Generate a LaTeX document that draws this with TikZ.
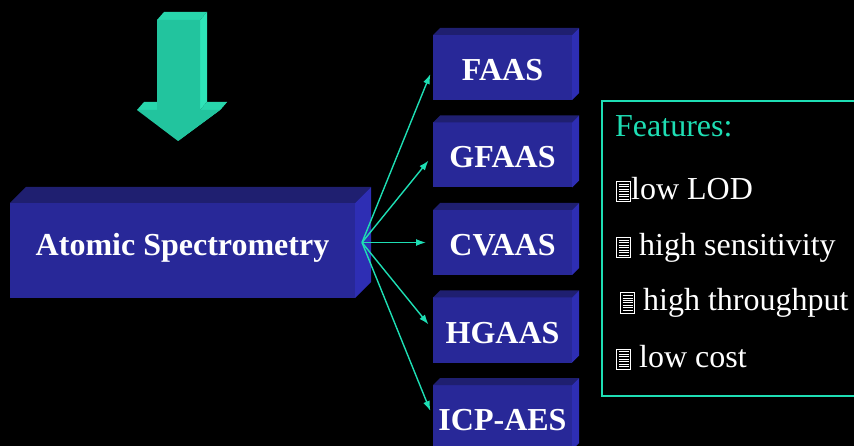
\documentclass[tikz,border=0pt]{standalone}
\usepackage{fontspec}
\setmainfont{Liberation Serif}
\usetikzlibrary{arrows.meta}

\definecolor{slabfront}{RGB}{40,40,152}
\definecolor{slabtop}{RGB}{31,31,112}
\definecolor{slabside}{RGB}{46,46,180}
\definecolor{aqua}{RGB}{30,222,180}
\definecolor{arrowfront}{RGB}{34,196,158}
\definecolor{arrowtop}{RGB}{40,214,172}
\definecolor{arrowside}{RGB}{46,228,184}

% little notepad glyph used as bullet
\newcommand\iconline{\hrule width 10pt height 1pt}
\newcommand\noteicon{{\fboxrule=1pt\fboxsep=1.5pt\fbox{\vbox{\iconline\vskip1.5pt\iconline\vskip1.5pt\iconline\vskip1.5pt\iconline\vskip1.5pt\iconline\vskip1.5pt\iconline\vskip1.5pt\iconline}}}}

% top and right faces of a block
\newcommand\slabfaces[2]{%
  \fill[slabtop] (#1.north west) -- ++(#2,-#2) -- ([shift={(#2,-#2)}]#1.north east) -- (#1.north east) -- cycle;
  \fill[slabside] (#1.north east) -- ++(#2,-#2) -- ([shift={(#2,-#2)}]#1.south east) -- (#1.south east) -- cycle;}

\tikzset{
  slab/.style={fill=slabfront, text=white, outer sep=0pt, inner sep=0pt,
    font=\fontsize{32}{38}\selectfont\bfseries},
  method/.style={slab, minimum width=139, minimum height=65, text height=26, text depth=0},
  link/.style={aqua, line width=1.4pt, shorten >=7pt, -{Latex[length=10pt,width=7pt]}},
  featitem/.style={anchor=base west, inner sep=0pt, text=white, font=\fontsize{32}{38}\selectfont},
}

\begin{document}
\begin{tikzpicture}[x=1pt,y=-1pt]
\fill[black] (0,0) rectangle (854,446);
\clip (0,0) rectangle (854,446);

% big arrow on top
\fill[arrowside] (200,20) -- (207,12) -- (207,102) -- (200,110) -- cycle;
\fill[arrowside] (220,110) -- (227,102) -- (185,133) -- (178,141) -- cycle;
\fill[arrowtop] (157,20) -- (164,12) -- (207,12) -- (200,20) -- cycle;
\fill[arrowtop] (137,110) -- (144,102) -- (164,102) -- (157,110) -- cycle;
\fill[arrowtop] (200,110) -- (207,102) -- (227,102) -- (220,110) -- cycle;
\fill[arrowfront] (157,20) -- (200,20) -- (200,110) -- (220,110) -- (178,141)
  -- (137,110) -- (157,110) -- cycle;

% main block
\node[slab, minimum width=345, minimum height=95, text height=23, text depth=12]
  (spec) at (182.5,250.5) {Atomic Spectrometry};
\slabfaces{spec}{16}

% method blocks
\node[method] (faas)   at (502.5,67.5)  {FAAS};
\node[method] (gfaas)  at (502.5,155)   {GFAAS};
\node[method] (cvaas)  at (502.5,242.5) {CVAAS};
\node[method] (hgaas)  at (502.5,330)   {HGAAS};
\node[method] (icpaes) at (502.5,417.5) {ICP-AES};
\foreach \b in {faas,gfaas,cvaas,hgaas,icpaes}
  \slabfaces{\b}{7};

\coordinate (hub) at ([shift={(7,-8)}]spec.east);
\foreach \b in {faas,gfaas,cvaas,hgaas,icpaes}
  \draw[link] (hub) -- (\b.west);

% features panel
\draw[aqua, line width=1.3pt] (860,101) -- (602,101) -- (602,396) -- (860,396);
\node[featitem, text=aqua] (feat) at (615,137) {Features:};
\node[featitem] (f1) at (616,200) {\noteicon low LOD};
\node[featitem] (f2) at (616,256) {\noteicon\ high sensitivity};
\node[featitem] (f3) at (620,311) {\noteicon\ high throughput};
\node[featitem] (f4) at (616,367) {\noteicon\ low cost};
\end{tikzpicture}
\end{document}
